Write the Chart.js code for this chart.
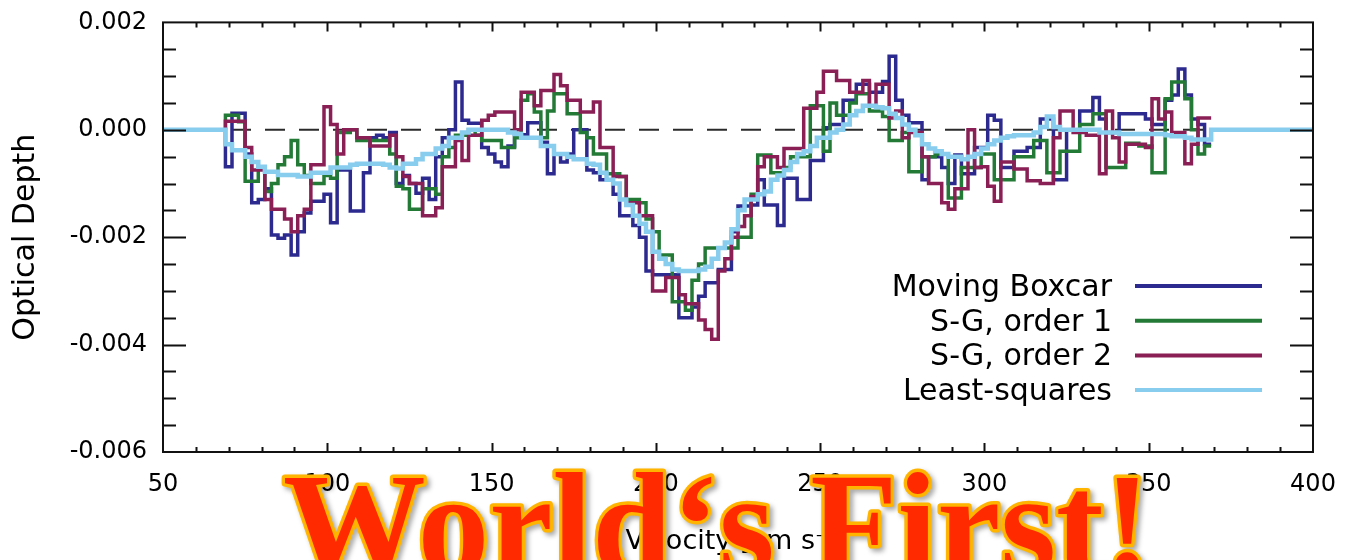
<!DOCTYPE html>
<html>
<head>
<meta charset="utf-8">
<title>Optical depth smoothing comparison</title>
<script src="https://cdn.jsdelivr.net/npm/chart.js@4.4.1/dist/chart.umd.min.js"></script>
<style>
  html, body { margin: 0; padding: 0; background: #fff; }
  canvas { display: block; }
</style>
</head>
<body>
<canvas id="chart" width="1346" height="560"></canvas>
<script>
// velocity bins (left edge of each 2 km/s step), km/s
const velocity = [
  69, 71, 73, 75, 77, 79, 81, 83, 85, 87, 89, 91, 93, 95, 97, 99, 101, 103, 105, 107,
  109, 111, 113, 115, 117, 119, 121, 123, 125, 127, 129, 131, 133, 135, 137, 139, 141, 143, 145, 147,
  149, 151, 153, 155, 157, 159, 161, 163, 165, 167, 169, 171, 173, 175, 177, 179, 181, 183, 185, 187,
  189, 191, 193, 195, 197, 199, 201, 203, 205, 207, 209, 211, 213, 215, 217, 219, 221, 223, 225, 227,
  229, 231, 233, 235, 237, 239, 241, 243, 245, 247, 249, 251, 253, 255, 257, 259, 261, 263, 265, 267,
  269, 271, 273, 275, 277, 279, 281, 283, 285, 287, 289, 291, 293, 295, 297, 299, 301, 303, 305, 307,
  309, 311, 313, 315, 317, 319, 321, 323, 325, 327, 329, 331, 333, 335, 337, 339, 341, 343, 345, 347,
  349, 351, 353, 355, 357, 359, 361, 363, 365, 367
];
const velocityEnd = 369;
const velocityRange = [50, 400];

const boxcar = [
  -0.00069, 0.00031, 0.00031, -0.00045, -0.00136, -0.00130, -0.00110, -0.00196, -0.00202, -0.00196,
  -0.00233, -0.00190, -0.00155, -0.00133, -0.00133, -0.00120, -0.00173, -0.00075, -0.00075, -0.00151,
  -0.00151, -0.00080, -0.00015, -0.00010, -0.00015, -0.00005, -0.00100, -0.00085, -0.00100, -0.00118,
  -0.00090, -0.00130, -0.00050, -0.00015, 0.00000, 0.00089, 0.00018, 0.00012, 0.00012, -0.00033,
  -0.00045, -0.00060, -0.00069, -0.00030, -0.00009, -0.00009, 0.00013, 0.00013, -0.00023, -0.00082,
  -0.00045, -0.00060, -0.00045, 0.00000, 0.00000, -0.00075, -0.00080, -0.00093, -0.00093, -0.00120,
  -0.00160, -0.00160, -0.00178, -0.00200, -0.00263, -0.00270, -0.00270, -0.00270, -0.00270, -0.00350,
  -0.00350, -0.00330, -0.00310, -0.00285, -0.00285, -0.00260, -0.00260, -0.00190, -0.00142, -0.00142,
  -0.00140, -0.00093, -0.00140, -0.00140, -0.00178, -0.00090, -0.00090, -0.00130, -0.00130, -0.00057,
  -0.00057, 0.00004, 0.00010, 0.00010, 0.00055, 0.00055, 0.00085, 0.00085, 0.00070, 0.00070,
  0.00090, 0.00137, 0.00055, 0.00027, 0.00013, 0.00013, -0.00093, -0.00050, -0.00050, -0.00070,
  -0.00100, -0.00047, -0.00082, -0.00082, -0.00033, -0.00033, 0.00027, 0.00018, -0.00070, -0.00070,
  -0.00040, -0.00040, -0.00033, -0.00033, 0.00020, 0.00020, -0.00093, -0.00093, 0.00000, 0.00000,
  0.00035, 0.00035, 0.00060, 0.00020, -0.00005, -0.00005, 0.00030, 0.00030, 0.00030, 0.00030,
  0.00020, 0.00010, 0.00010, 0.00055, 0.00065, 0.00113, 0.00065, 0.00020, 0.00010, -0.00027
];

const sgOrder1 = [
  0.00027, 0.00027, 0.00015, -0.00096, -0.00096, -0.00070, -0.00115, -0.00100, -0.00065, -0.00050,
  -0.00020, -0.00065, -0.00085, -0.00100, -0.00100, -0.00085, -0.00090, -0.00005, -0.00005, 0.00000,
  -0.00020, -0.00020, -0.00020, -0.00020, -0.00020, -0.00045, -0.00105, -0.00110, -0.00148, -0.00148,
  -0.00110, -0.00110, -0.00120, -0.00050, -0.00033, -0.00010, -0.00010, 0.00000, -0.00010, -0.00020,
  -0.00020, -0.00020, -0.00033, -0.00033, -0.00015, 0.00055, 0.00067, 0.00033, -0.00015, 0.00035,
  0.00067, 0.00067, 0.00030, 0.00030, -0.00005, -0.00015, -0.00045, -0.00045, -0.00082, -0.00082,
  -0.00087, -0.00130, -0.00130, -0.00136, -0.00166, -0.00190, -0.00233, -0.00233, -0.00320, -0.00320,
  -0.00336, -0.00280, -0.00250, -0.00220, -0.00220, -0.00220, -0.00220, -0.00220, -0.00200, -0.00200,
  -0.00120, -0.00047, -0.00047, -0.00080, -0.00080, -0.00070, -0.00050, -0.00050, -0.00050, 0.00045,
  0.00045, -0.00040, 0.00050, 0.00027, 0.00027, 0.00050, 0.00067, 0.00067, 0.00035, 0.00035,
  0.00025, -0.00020, -0.00020, -0.00005, -0.00078, -0.00078, -0.00050, -0.00050, -0.00045, -0.00045,
  -0.00127, -0.00127, -0.00070, -0.00070, -0.00070, -0.00045, -0.00045, -0.00093, -0.00093, -0.00093,
  -0.00050, -0.00050, -0.00050, -0.00020, -0.00020, -0.00080, -0.00080, -0.00040, -0.00040, -0.00040,
  0.00010, 0.00010, 0.00030, 0.00030, -0.00070, -0.00070, -0.00070, -0.00025, -0.00025, -0.00030,
  -0.00030, -0.00080, -0.00080, 0.00058, 0.00089, 0.00089, 0.00058, 0.00000, -0.00045, -0.00030
];

const sgOrder2 = [
  0.00016, 0.00016, 0.00016, -0.00033, -0.00075, -0.00075, -0.00130, -0.00148, -0.00148, -0.00166,
  -0.00190, -0.00160, -0.00148, -0.00065, -0.00065, 0.00043, 0.00010, -0.00045, 0.00000, 0.00000,
  -0.00015, -0.00015, -0.00030, -0.00030, -0.00030, -0.00010, -0.00050, -0.00087, -0.00100, -0.00100,
  -0.00160, -0.00160, -0.00145, -0.00069, -0.00069, -0.00020, -0.00057, -0.00010, -0.00010, 0.00018,
  0.00027, 0.00033, 0.00033, 0.00033, 0.00000, 0.00070, 0.00070, 0.00045, 0.00073, 0.00073,
  0.00103, 0.00082, 0.00055, 0.00055, 0.00033, 0.00033, 0.00052, -0.00033, -0.00033, -0.00087,
  -0.00087, -0.00136, -0.00136, -0.00160, -0.00160, -0.00300, -0.00300, -0.00275, -0.00275, -0.00307,
  -0.00324, -0.00324, -0.00354, -0.00372, -0.00390, -0.00263, -0.00240, -0.00200, -0.00180, -0.00160,
  -0.00124, -0.00069, -0.00050, -0.00050, -0.00070, -0.00035, -0.00035, -0.00035, 0.00040, 0.00040,
  0.00070, 0.00109, 0.00109, 0.00092, 0.00092, 0.00070, 0.00070, 0.00092, 0.00045, 0.00085,
  0.00085, 0.00022, 0.00035, -0.00015, -0.00005, -0.00005, -0.00050, -0.00100, -0.00100, -0.00136,
  -0.00148, -0.00110, -0.00110, 0.00000, -0.00070, -0.00069, -0.00105, -0.00133, -0.00060, -0.00060,
  -0.00073, -0.00073, -0.00095, -0.00095, -0.00100, -0.00100, -0.00015, 0.00035, 0.00035, -0.00005,
  -0.00005, -0.00010, -0.00010, -0.00082, 0.00035, -0.00015, -0.00060, -0.00027, -0.00027, -0.00027,
  -0.00033, 0.00058, 0.00020, 0.00033, -0.00005, -0.00005, -0.00063, -0.00027, 0.00022, 0.00022
];

const leastSquares = [
  -0.00027, -0.00038, -0.00038, -0.00050, -0.00060, -0.00069, -0.00078, -0.00078, -0.00084, -0.00084,
  -0.00084, -0.00087, -0.00087, -0.00080, -0.00080, -0.00080, -0.00070, -0.00070, -0.00070, -0.00065,
  -0.00063, -0.00063, -0.00063, -0.00063, -0.00065, -0.00070, -0.00072, -0.00063, -0.00063, -0.00055,
  -0.00045, -0.00045, -0.00035, -0.00030, -0.00015, -0.00015, -0.00005, 0.00000, 0.00000, 0.00000,
  0.00000, 0.00000, 0.00000, -0.00005, -0.00008, -0.00015, -0.00015, -0.00015, -0.00030, -0.00030,
  -0.00045, -0.00045, -0.00050, -0.00055, -0.00055, -0.00063, -0.00065, -0.00080, -0.00093, -0.00100,
  -0.00130, -0.00140, -0.00160, -0.00175, -0.00190, -0.00227, -0.00240, -0.00250, -0.00260, -0.00263,
  -0.00263, -0.00263, -0.00260, -0.00255, -0.00240, -0.00220, -0.00210, -0.00185, -0.00150, -0.00130,
  -0.00130, -0.00120, -0.00115, -0.00093, -0.00085, -0.00075, -0.00060, -0.00045, -0.00040, -0.00030,
  -0.00015, -0.00015, -0.00005, 0.00000, 0.00010, 0.00027, 0.00035, 0.00045, 0.00045, 0.00042,
  0.00040, 0.00030, 0.00022, 0.00010, 0.00000, -0.00010, -0.00027, -0.00035, -0.00040, -0.00045,
  -0.00050, -0.00050, -0.00055, -0.00050, -0.00045, -0.00035, -0.00027, -0.00020, -0.00015, -0.00012,
  -0.00010, -0.00010, -0.00010, -0.00005, 0.00005, 0.00025, 0.00005, 0.00000, 0.00000, 0.00000,
  0.00000, 0.00000, 0.00000, -0.00005, -0.00005, -0.00005, -0.00008, -0.00008, -0.00008, -0.00008,
  -0.00008, -0.00008, -0.00008, -0.00010, -0.00012, -0.00012, -0.00015, -0.00018, -0.00018, -0.00018
];

const yTicksMajor = [-0.006, -0.004, -0.002, 0, 0.002];

// step series: each value holds from its bin edge to the next one
function steps(values, withBaseline) {
  const pts = [];
  if (withBaseline) pts.push({ x: velocityRange[0], y: 0 });
  else pts.push({ x: velocity[0], y: 0 });
  velocity.forEach((v, i) => pts.push({ x: v, y: values[i] }));
  if (withBaseline) {
    pts.push({ x: velocityEnd, y: 0 });
    pts.push({ x: velocityRange[1], y: 0 });
  } else {
    pts.push({ x: velocityEnd, y: values[values.length - 1] });
  }
  return pts;
}

const FONT = '"DejaVu Sans", "Liberation Sans", Arial, sans-serif';

// dashed zero line, drawn under the data
const zeroLine = {
  id: 'zeroLine',
  beforeDatasetsDraw(chart) {
    const { ctx, chartArea: a, scales: { y } } = chart;
    const py = y.getPixelForValue(0);
    ctx.save();
    ctx.strokeStyle = '#2a2a2a';
    ctx.lineWidth = 2;
    ctx.setLineDash([20, 14]);
    ctx.beginPath();
    ctx.moveTo(a.left, py);
    ctx.lineTo(a.right, py);
    ctx.stroke();
    ctx.restore();
  }
};

// box frame with inward major/minor ticks on all four sides
const frame = {
  id: 'frame',
  afterDatasetsDraw(chart) {
    const { ctx, chartArea: a, scales: { x, y } } = chart;
    ctx.save();
    ctx.strokeStyle = '#111';
    ctx.lineWidth = 2;
    ctx.strokeRect(a.left, a.top, a.right - a.left, a.bottom - a.top);
    ctx.beginPath();
    for (let v = 60; v < 400; v += 10) {
      const px = Math.round(x.getPixelForValue(v)) + 0.5;
      const len = v % 50 === 0 ? 9 : 5;
      ctx.moveTo(px, a.bottom); ctx.lineTo(px, a.bottom - len);
      ctx.moveTo(px, a.top); ctx.lineTo(px, a.top + len);
    }
    for (let k = -11; k <= 3; k++) {
      const v = k * 0.0005;
      const py = Math.round(y.getPixelForValue(v)) + 0.5;
      const len = k % 4 === 0 ? 23 : 13;
      ctx.moveTo(a.left, py); ctx.lineTo(a.left + len, py);
      ctx.moveTo(a.right, py); ctx.lineTo(a.right - len, py);
    }
    ctx.stroke();
    ctx.restore();
  }
};

// legend: right-aligned labels followed by a line sample
const legendBox = {
  id: 'legendBox',
  afterDraw(chart) {
    const { ctx } = chart;
    const sets = chart.data.datasets;
    ctx.save();
    ctx.font = '30px ' + FONT;
    ctx.textAlign = 'right';
    ctx.textBaseline = 'alphabetic';
    sets.forEach((ds, i) => {
      const ly = 286 + i * 34.7;
      ctx.fillStyle = '#000';
      ctx.fillText(ds.label, 1112, ly + 10);
      ctx.strokeStyle = ds.borderColor;
      ctx.lineWidth = 4;
      ctx.beginPath();
      ctx.moveTo(1135, ly);
      ctx.lineTo(1262, ly);
      ctx.stroke();
    });
    ctx.restore();
  }
};

// big banner on top of everything
const banner = {
  id: 'banner',
  afterDraw(chart) {
    const { ctx } = chart;
    const txt = 'World\u2018s First!';
    ctx.save();
    ctx.font = 'bold 147px "Liberation Serif", "Times New Roman", serif';
    const w = ctx.measureText(txt).width;
    ctx.translate(283, 574);
    ctx.scale(868 / w, 1);
    ctx.lineJoin = 'round';
    ctx.shadowColor = 'rgba(0,0,0,0.35)';
    ctx.shadowBlur = 5;
    ctx.shadowOffsetX = 3;
    ctx.shadowOffsetY = 3;
    ctx.lineWidth = 7;
    ctx.strokeStyle = '#ffb400';
    ctx.strokeText(txt, 0, 0);
    ctx.shadowColor = 'transparent';
    ctx.fillStyle = '#ff2a00';
    ctx.fillText(txt, 0, 0);
    ctx.restore();
  }
};

const lineStyle = { pointRadius: 0, fill: false, stepped: true, borderJoinStyle: 'miter', borderCapStyle: 'butt' };

new Chart(document.getElementById('chart').getContext('2d'), {
  type: 'line',
  data: {
    datasets: [
      Object.assign({ label: 'Moving Boxcar', data: steps(boxcar, false), borderColor: '#2c2a8e', borderWidth: 3.5, order: 4 }, lineStyle),
      Object.assign({ label: 'S-G, order 1', data: steps(sgOrder1, false), borderColor: '#237a37', borderWidth: 3.5, order: 3 }, lineStyle),
      Object.assign({ label: 'S-G, order 2', data: steps(sgOrder2, false), borderColor: '#8a1f55', borderWidth: 3.5, order: 2 }, lineStyle),
      Object.assign({ label: 'Least-squares', data: steps(leastSquares, true), borderColor: '#88ccee', borderWidth: 4.5, order: 1 }, lineStyle),
    ],
  },
  options: {
    responsive: false,
    animation: false,
    layout: { padding: { top: 12, right: 33, left: 0, bottom: 0 } },
    plugins: { legend: { display: false }, tooltip: { enabled: false } },
    scales: {
      x: {
        type: 'linear',
        min: velocityRange[0],
        max: velocityRange[1],
        afterFit: s => { s.height = 108; },
        grid: { display: false },
        border: { display: false },
        ticks: { stepSize: 50, maxRotation: 0, padding: 10, color: '#000', font: { family: FONT, size: 24 } },
        title: { display: true, text: 'Velocity [km s\u207B\u00B9]', color: '#000', font: { family: FONT, size: 27 }, padding: { top: 0, bottom: 2 } },
      },
      y: {
        type: 'linear',
        min: yTicksMajor[0],
        max: yTicksMajor[yTicksMajor.length - 1],
        afterFit: s => { s.width = 163; },
        afterBuildTicks: s => { s.ticks = yTicksMajor.map(v => ({ value: v })); },
        grid: { display: false },
        border: { display: false },
        ticks: {
          padding: 8, color: '#000', font: { family: FONT, size: 24 },
          callback: v => (Math.abs(v) < 1e-12 ? 0 : v).toFixed(3),
        },
        title: { display: true, text: 'Optical Depth', color: '#000', font: { family: FONT, size: 30 }, padding: { top: 8, bottom: 0 } },
      },
    },
  },
  plugins: [zeroLine, frame, legendBox, banner],
});
</script>
</body>
</html>
